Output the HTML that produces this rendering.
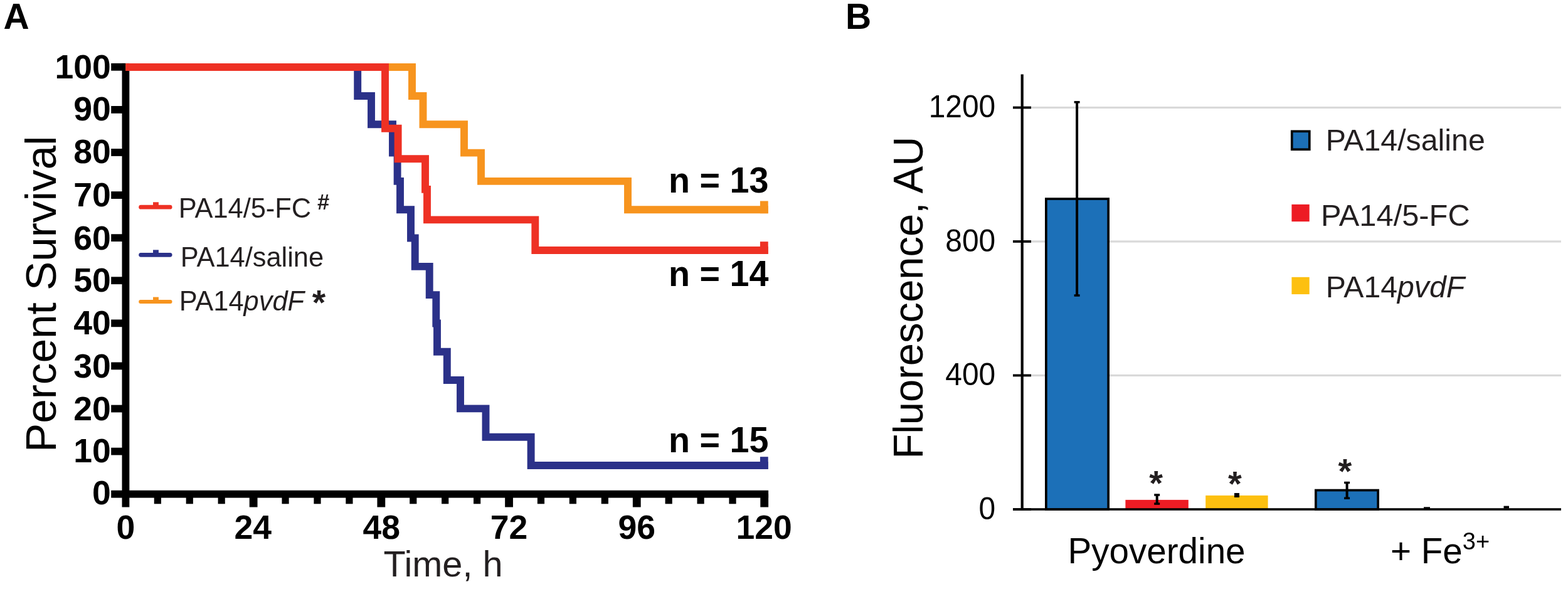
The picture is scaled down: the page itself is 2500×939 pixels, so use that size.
<!DOCTYPE html>
<html><head><meta charset="utf-8"><title>Figure</title>
<style>
html,body{margin:0;padding:0;background:#fff;}
body{width:2500px;height:939px;overflow:hidden;}
svg{display:block;}
text{font-family:"Liberation Sans",Arial,Helvetica,sans-serif;}
</style></head>
<body>
<svg width="2500" height="939" viewBox="0 0 2500 939">
<rect width="2500" height="939" fill="#fff"/>
<text x="5.58" y="45.60" text-anchor="start" fill="#000" style="font-size:57px;font-weight:bold;" >A</text>
<text x="1347.89" y="45.50" text-anchor="start" fill="#000" style="font-size:57px;font-weight:bold;" >B</text>
<rect x="177.2" y="781.80" width="23.20" height="11.8" fill="#000"/>
<rect x="177.2" y="713.71" width="23.20" height="11.8" fill="#000"/>
<rect x="177.2" y="645.62" width="23.20" height="11.8" fill="#000"/>
<rect x="177.2" y="577.53" width="23.20" height="11.8" fill="#000"/>
<rect x="177.2" y="509.44" width="23.20" height="11.8" fill="#000"/>
<rect x="177.2" y="441.35" width="23.20" height="11.8" fill="#000"/>
<rect x="177.2" y="373.26" width="23.20" height="11.8" fill="#000"/>
<rect x="177.2" y="305.17" width="23.20" height="11.8" fill="#000"/>
<rect x="177.2" y="237.08" width="23.20" height="11.8" fill="#000"/>
<rect x="177.2" y="168.99" width="23.20" height="11.8" fill="#000"/>
<rect x="177.2" y="100.90" width="23.20" height="11.8" fill="#000"/>
<rect x="194.50" y="100.90" width="11.8" height="707.60" fill="#000"/>
<rect x="200.40" y="781.80" width="1024.70" height="11.8" fill="#000"/>
<rect x="245.73" y="787.70" width="11.2" height="15.60" fill="#000"/>
<rect x="296.66" y="787.70" width="11.2" height="15.60" fill="#000"/>
<rect x="347.58" y="787.70" width="11.2" height="15.60" fill="#000"/>
<rect x="397.71" y="787.70" width="12.8" height="20.80" fill="#000"/>
<rect x="449.44" y="787.70" width="11.2" height="15.60" fill="#000"/>
<rect x="500.37" y="787.70" width="11.2" height="15.60" fill="#000"/>
<rect x="551.30" y="787.70" width="11.2" height="15.60" fill="#000"/>
<rect x="601.42" y="787.70" width="12.8" height="20.80" fill="#000"/>
<rect x="653.15" y="787.70" width="11.2" height="15.60" fill="#000"/>
<rect x="704.08" y="787.70" width="11.2" height="15.60" fill="#000"/>
<rect x="755.01" y="787.70" width="11.2" height="15.60" fill="#000"/>
<rect x="805.14" y="787.70" width="12.8" height="20.80" fill="#000"/>
<rect x="856.86" y="787.70" width="11.2" height="15.60" fill="#000"/>
<rect x="907.79" y="787.70" width="11.2" height="15.60" fill="#000"/>
<rect x="958.72" y="787.70" width="11.2" height="15.60" fill="#000"/>
<rect x="1008.85" y="787.70" width="12.8" height="20.80" fill="#000"/>
<rect x="1060.58" y="787.70" width="11.2" height="15.60" fill="#000"/>
<rect x="1111.50" y="787.70" width="11.2" height="15.60" fill="#000"/>
<rect x="1162.43" y="787.70" width="11.2" height="15.60" fill="#000"/>
<rect x="1212.30" y="787.70" width="12.8" height="20.80" fill="#000"/>
<text x="176.79" y="804.38" text-anchor="end" fill="#000" style="font-size:53.5px;font-weight:bold;" >0</text>
<text x="176.79" y="737.29" text-anchor="end" fill="#000" style="font-size:53.5px;font-weight:bold;" >10</text>
<text x="176.79" y="669.50" text-anchor="end" fill="#000" style="font-size:53.5px;font-weight:bold;" >20</text>
<text x="176.79" y="601.51" text-anchor="end" fill="#000" style="font-size:53.5px;font-weight:bold;" >30</text>
<text x="176.79" y="532.82" text-anchor="end" fill="#000" style="font-size:53.5px;font-weight:bold;" >40</text>
<text x="176.79" y="464.93" text-anchor="end" fill="#000" style="font-size:53.5px;font-weight:bold;" >50</text>
<text x="176.79" y="397.54" text-anchor="end" fill="#000" style="font-size:53.5px;font-weight:bold;" >60</text>
<text x="176.79" y="329.45" text-anchor="end" fill="#000" style="font-size:53.5px;font-weight:bold;" >70</text>
<text x="176.79" y="259.86" text-anchor="end" fill="#000" style="font-size:53.5px;font-weight:bold;" >80</text>
<text x="176.79" y="192.37" text-anchor="end" fill="#000" style="font-size:53.5px;font-weight:bold;" >90</text>
<text x="176.79" y="125.18" text-anchor="end" fill="#000" style="font-size:53.5px;font-weight:bold;" >100</text>
<text x="185.56" y="859.00" text-anchor="start" fill="#000" style="font-size:53.5px;font-weight:bold;" >0</text>
<text x="373.57" y="859.00" text-anchor="start" fill="#000" style="font-size:53.5px;font-weight:bold;" >24</text>
<text x="578.49" y="859.00" text-anchor="start" fill="#000" style="font-size:53.5px;font-weight:bold;" >48</text>
<text x="781.70" y="859.00" text-anchor="start" fill="#000" style="font-size:53.5px;font-weight:bold;" >72</text>
<text x="985.53" y="859.00" text-anchor="start" fill="#000" style="font-size:53.5px;font-weight:bold;" >96</text>
<text x="1173.48" y="859.00" text-anchor="start" fill="#000" style="font-size:53.5px;font-weight:bold;" >120</text>
<path d="M200.40,107.00 L570.20,107.00 L570.20,153.00 L592.00,153.00 L592.00,198.30 L626.00,198.30 L626.00,243.61 L633.60,243.61 L633.60,288.92 L638.00,288.92 L638.00,334.22 L655.00,334.22 L655.00,379.53 L661.70,379.53 L661.70,424.84 L684.70,424.84 L684.70,470.14 L695.30,470.14 L695.30,515.45 L697.00,515.45 L697.00,560.76 L712.80,560.76 L712.80,606.06 L734.00,606.06 L734.00,651.37 L774.50,651.37 L774.50,696.68 L846.60,696.68 L846.60,741.98 L1224.70,741.98" fill="none" stroke="#2b3189" stroke-width="11.9" stroke-linejoin="miter" stroke-linecap="butt"/>
<rect x="1211.9" y="728.23" width="12.8" height="19.70" fill="#2b3189"/>
<path d="M200.40,107.00 L657.00,107.00 L657.00,153.00 L674.50,153.00 L674.50,198.30 L740.00,198.30 L740.00,243.61 L767.00,243.61 L767.00,288.92 L1001.00,288.92 L1001.00,334.22 L1224.70,334.22" fill="none" stroke="#f7941e" stroke-width="11.9" stroke-linejoin="miter" stroke-linecap="butt"/>
<rect x="1211.9" y="320.47" width="12.8" height="19.70" fill="#f7941e"/>
<path d="M200.40,107.00 L614.00,107.00 L614.00,204.78 L634.60,204.78 L634.60,253.32 L678.00,253.32 L678.00,301.86 L681.00,301.86 L681.00,350.40 L853.30,350.40 L853.30,398.95 L1224.70,398.95" fill="none" stroke="#ee3124" stroke-width="11.9" stroke-linejoin="miter" stroke-linecap="butt"/>
<rect x="1211.9" y="385.20" width="12.8" height="19.70" fill="#ee3124"/>
<text transform="translate(1065.93,306.90) scale(1.0,1.035)" text-anchor="start" fill="#000" style="font-size:55.7px;font-weight:bold;" >n = 13</text>
<text transform="translate(1065.93,456.20) scale(1.0,1.035)" text-anchor="start" fill="#000" style="font-size:55.7px;font-weight:bold;" >n = 14</text>
<text transform="translate(1065.93,721.20) scale(1.0,1.035)" text-anchor="start" fill="#000" style="font-size:55.7px;font-weight:bold;" >n = 15</text>
<line x1="224.60" y1="330.2" x2="271.10" y2="330.2" stroke="#ee3124" stroke-width="6.8" stroke-linecap="round"/>
<rect x="244" y="322.30" width="8.9" height="6" fill="#ee3124"/>
<line x1="224.60" y1="406.3" x2="271.10" y2="406.3" stroke="#2b3189" stroke-width="6.8" stroke-linecap="round"/>
<rect x="244" y="398.40" width="8.9" height="6" fill="#2b3189"/>
<line x1="224.10" y1="481" x2="271.60" y2="481" stroke="#f7941e" stroke-width="5.8" stroke-linecap="round"/>
<rect x="244" y="473.60" width="8.9" height="6" fill="#f7941e"/>
<text transform="translate(284.74,346.80) scale(1.0,1.02)" text-anchor="start" fill="#231f20" style="font-size:43.4px;font-weight:normal;" >PA14/5-FC</text>
<text x="506.11" y="334.40" text-anchor="start" fill="#231f20" style="font-size:34.5px;font-weight:bold;" >#</text>
<text transform="translate(287.74,424.80) scale(1.0,1.02)" text-anchor="start" fill="#231f20" style="font-size:43.4px;font-weight:normal;" >PA14/saline</text>
<text transform="translate(285.64,494.8) scale(1,1.02)" fill="#231f20" style="font-size:43.4px">PA14<tspan style="font-style:italic">pvdF</tspan></text>
<text x="497.64" y="501.00" text-anchor="start" fill="#231f20" style="font-size:55px;font-weight:bold;" >*</text>
<text transform="translate(89.0,721.08) rotate(-90)" fill="#000" style="font-size:69.3px">Percent Survival</text>
<text x="611.40" y="918.60" text-anchor="start" fill="#231f20" style="font-size:57.7px;font-weight:normal;" >Time, h</text>
<rect x="1644" y="596.90" width="845" height="3.2" fill="#d9d9d9"/>
<rect x="1644" y="383.40" width="845" height="3.2" fill="#d9d9d9"/>
<rect x="1644" y="169.90" width="845" height="3.2" fill="#d9d9d9"/>
<rect x="1615" y="810.10" width="29" height="3.8" fill="#000"/>
<rect x="1615" y="596.60" width="29" height="3.8" fill="#000"/>
<rect x="1615" y="383.10" width="29" height="3.8" fill="#000"/>
<rect x="1615" y="169.60" width="29" height="3.8" fill="#000"/>
<rect x="1627.6" y="118.5" width="4.2" height="695.30" fill="#000"/>
<text transform="translate(1587.27,827.93) scale(0.988,1.03)" text-anchor="end" fill="#000" style="font-size:48.5px;font-weight:normal;" >0</text>
<text transform="translate(1587.27,614.13) scale(0.988,1.03)" text-anchor="end" fill="#000" style="font-size:48.5px;font-weight:normal;" >400</text>
<text transform="translate(1587.27,401.13) scale(0.988,1.03)" text-anchor="end" fill="#000" style="font-size:48.5px;font-weight:normal;" >800</text>
<text transform="translate(1587.27,186.63) scale(0.988,1.03)" text-anchor="end" fill="#000" style="font-size:48.5px;font-weight:normal;" >1200</text>
<rect x="1667.85" y="317.05" width="99.30" height="494.95" fill="#1c70b8" stroke="#000" stroke-width="3.7"/>
<rect x="1794.40" y="796.90" width="100.40" height="15.10" fill="#ed1c24"/>
<rect x="1922.20" y="789.90" width="99.40" height="22.10" fill="#fdc010"/>
<rect x="2097.85" y="781.55" width="99.30" height="30.45" fill="#1c70b8" stroke="#000" stroke-width="3.7"/>
<rect x="1715.10" y="162.80" width="4.0" height="308.20" fill="#000"/>
<rect x="1712.60" y="161.05" width="9" height="3.5" fill="#000"/>
<rect x="1712.60" y="469.25" width="9" height="3.5" fill="#000"/>
<rect x="1842.70" y="789.00" width="4.0" height="14.10" fill="#000"/>
<rect x="1840.20" y="787.25" width="9" height="3.5" fill="#000"/>
<rect x="1840.20" y="801.35" width="9" height="3.5" fill="#000"/>
<rect x="1968" y="786" width="8" height="7" fill="#000"/>
<rect x="2145.60" y="769.50" width="4.0" height="24.70" fill="#000"/>
<rect x="2143.10" y="767.75" width="9" height="3.5" fill="#000"/>
<rect x="2143.10" y="792.45" width="9" height="3.5" fill="#000"/>
<rect x="2270" y="808.3" width="10" height="3" fill="#000"/>
<rect x="2397.5" y="806.6" width="8.5" height="4" fill="#000"/>
<rect x="1615" y="810.20" width="874" height="3.6" fill="#000"/>
<text x="1832.15" y="789.33" text-anchor="start" fill="#231f20" style="font-size:56px;font-weight:bold;" >*</text>
<text x="1957.95" y="790.33" text-anchor="start" fill="#231f20" style="font-size:56px;font-weight:bold;" >*</text>
<text x="2133.45" y="769.53" text-anchor="start" fill="#231f20" style="font-size:56px;font-weight:bold;" >*</text>
<rect x="2059.75" y="209.35" width="28" height="28.9" fill="#1c70b8" stroke="#000" stroke-width="3.7"/>
<rect x="2059.4" y="325.9" width="28.3" height="27.3" fill="#ed1c24"/>
<rect x="2059.4" y="441.8" width="28.3" height="27.3" fill="#fdc010"/>
<text x="2113.64" y="239.90" text-anchor="start" fill="#231f20" style="font-size:48.3px;font-weight:normal;" >PA14/saline</text>
<text x="2105.90" y="360.00" text-anchor="start" fill="#231f20" style="font-size:48.8px;font-weight:normal;" >PA14/5-FC</text>
<text x="2113.75" y="473.9" fill="#231f20" style="font-size:48.2px">PA14<tspan style="font-style:italic">pvdF</tspan></text>
<text transform="translate(1471.0,731.44) rotate(-90) scale(1,1.035)" fill="#000" style="font-size:65.1px">Fluorescence, AU</text>
<text x="1702.46" y="897.70" text-anchor="start" fill="#000" style="font-size:56.6px;font-weight:normal;" >Pyoverdine</text>
<text x="2216.94" y="897.9" fill="#000" style="font-size:56.6px">+ Fe<tspan dy="-22" style="font-size:38px">3+</tspan></text>
</svg>
</body></html>
